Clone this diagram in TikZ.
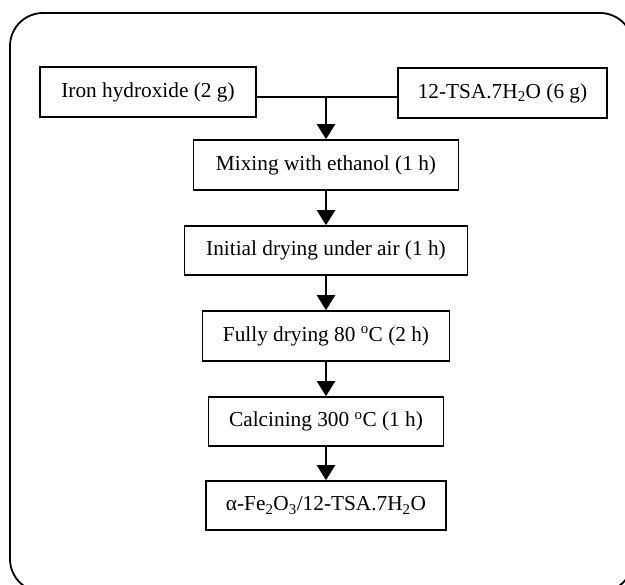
\documentclass[tikz,border=0pt]{standalone}
\usepackage{fontspec}
\setmainfont{Liberation Serif}
\usetikzlibrary{arrows.meta}
\begin{document}
\begin{tikzpicture}[x=1pt,y=-1pt,
  stepbox/.style={draw,line width=1.6pt,inner sep=0pt,align=center,font=\fontsize{21.3pt}{25pt}\selectfont},
  flowarrow/.style={line width=2.3pt,-{Triangle[width=18pt,length=15pt]}},
  joinline/.style={line width=1.2pt}]
\useasboundingbox (0,0) rectangle (625,585);
\draw[line width=1.8pt,rounded corners=33pt] (10,13) rectangle (633,592);
\node[stepbox,minimum width=216pt,minimum height=50pt] (b1) at (148,92) {Iron hydroxide (2 g)};
\node[stepbox,minimum width=209pt,minimum height=50pt] (b2) at (502.5,93) {12-TSA.7H\textsubscript{2}O (6 g)};
\node[stepbox,minimum width=265pt,minimum height=50pt] (b3) at (326,165) {Mixing with ethanol (1 h)};
\node[stepbox,minimum width=283pt,minimum height=49pt] (b4) at (326,250.5) {Initial drying under air (1 h)};
\node[stepbox,minimum width=247pt,minimum height=50pt] (b5) at (326,336) {Fully drying 80 \textsuperscript{o}C (2 h)};
\node[stepbox,minimum width=235pt,minimum height=49pt] (b6) at (326,421.5) {Calcining 300 \textsuperscript{o}C (1 h)};
\node[stepbox,minimum width=240pt,minimum height=49pt] (b7) at (326,505.5) {α-Fe\textsubscript{2}O\textsubscript{3}/12-TSA.7H\textsubscript{2}O};
\coordinate (j) at (326,97);
\draw[joinline] (b1.east |- j) -- (b2.west |- j);
\draw[flowarrow] (j) -- (b3.north);
\draw[flowarrow] (b3.south) -- (b4.north);
\draw[flowarrow] (b4.south) -- (b5.north);
\draw[flowarrow] (b5.south) -- (b6.north);
\draw[flowarrow] (b6.south) -- (b7.north);
\end{tikzpicture}
\end{document}
